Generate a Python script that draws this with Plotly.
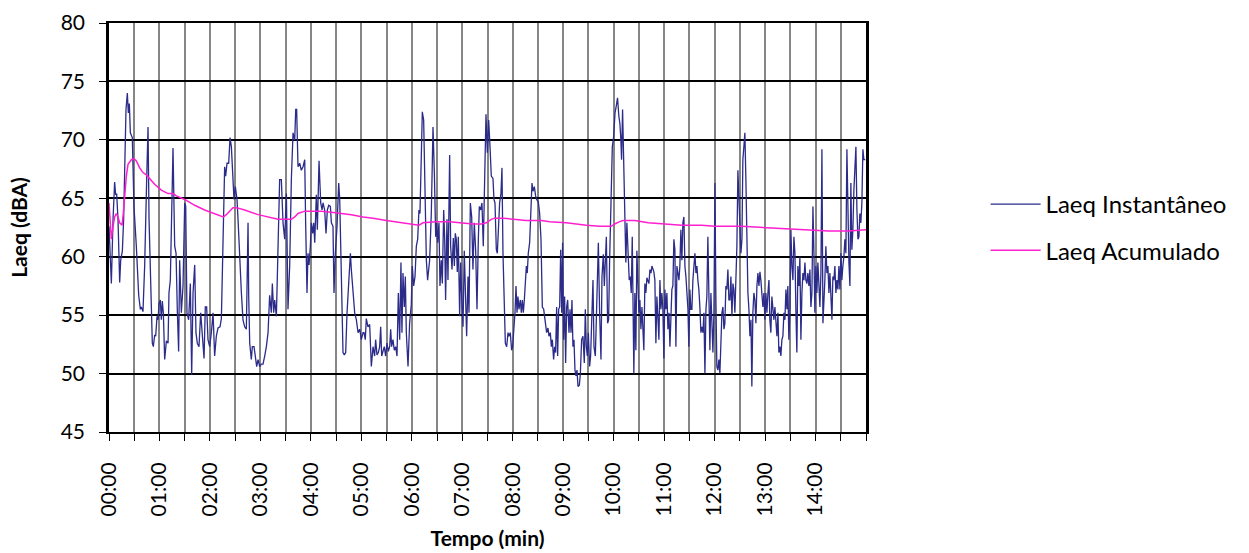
import plotly.graph_objects as go

# Laeq Instantaneo: (time in seconds, dBA)
inst_points = [
    (0, 62.6), (2.8, 57.7), (4.8, 63.2), (6.7, 66.4), (7.9, 65.3), (9.1, 65.4), (10.7, 63.2), (12.7, 57.8),
    (13.9, 59.7), (15.9, 60.5), (17.4, 63.2), (19.0, 70.3), (20.2, 72.6), (21.8, 74.0), (23.0, 72.3), (24.2, 73.1),
    (25.4, 70.6), (27.7, 70.2), (29.7, 64.3), (32.5, 60.9), (35.3, 56.7), (37.3, 55.5), (38.4, 55.7), (40.4, 55.3),
    (42.4, 59.2), (44.8, 66.6), (46.4, 71.1), (47.6, 63.2), (49.5, 57.5), (51.5, 52.6), (52.7, 52.3), (54.3, 53.3),
    (55.5, 53.2), (57.1, 54.9), (58.3, 54.6), (59.5, 56.0), (61.0, 56.3), (62.2, 54.6), (63.4, 56.2), (64.6, 55.2),
    (66.2, 51.2), (68.2, 52.8), (70.2, 52.6), (71.3, 56.9), (72.9, 58.0), (74.1, 63.2), (76.1, 69.3), (78.1, 60.9),
    (79.7, 60.3), (81.3, 55.2), (82.8, 51.9), (84.0, 59.7), (86.0, 55.2), (88.0, 57.5), (90.0, 64.6), (91.2, 64.3),
    (92.7, 55.2), (94.7, 54.6), (96.7, 57.7), (98.3, 49.9), (99.9, 56.9), (101.9, 59.3), (103.4, 53.5), (105.0, 52.6),
    (107.0, 52.3), (109.0, 55.2), (111.0, 53.2), (113.0, 51.3), (114.5, 55.7), (116.1, 55.7), (117.7, 52.9), (119.7, 52.3),
    (121.7, 53.5), (123.7, 55.2), (125.6, 51.5), (127.6, 53.2), (129.6, 53.9), (132.0, 54.0), (133.6, 54.7), (135.9, 62.6),
    (137.5, 67.7), (138.7, 66.9), (140.3, 68.0), (142.3, 68.0), (143.9, 70.2), (145.5, 69.4), (147.0, 67.7), (148.6, 64.9),
    (150.2, 66.0), (152.2, 64.9), (153.4, 63.2), (155.4, 59.2), (157.4, 56.9), (159.3, 54.6), (161.3, 54.0), (163.3, 53.8),
    (165.3, 62.9), (166.1, 56.6), (167.3, 52.6), (169.2, 51.2), (170.4, 52.3), (172.4, 52.3), (174.0, 51.2), (175.6, 50.6),
    (177.2, 51.2), (179.2, 50.6), (181.1, 50.8), (183.1, 50.8), (185.1, 51.5), (187.1, 52.3), (189.1, 53.5), (191.0, 56.7),
    (193.0, 55.2), (194.2, 57.7), (195.8, 55.2), (197.0, 56.3), (199.0, 54.9), (201.0, 61.2), (202.9, 66.6), (204.9, 66.6),
    (206.9, 62.9), (208.9, 61.5), (210.9, 65.4), (212.8, 55.5), (214.8, 59.2), (216.8, 66.6), (218.8, 70.6), (220.8, 70.0),
    (222.0, 72.6), (223.1, 72.6), (224.7, 67.7), (226.7, 68.0), (228.7, 67.4), (230.7, 67.7), (232.7, 68.3), (233.8, 62.9),
    (235.4, 56.9), (236.6, 60.3), (237.8, 59.3), (239.4, 60.9), (240.6, 62.9), (242.2, 62.0), (243.4, 62.9), (244.6, 61.2),
    (246.5, 65.3), (247.7, 62.3), (249.7, 68.2), (251.7, 64.6), (253.3, 64.0), (254.5, 64.6), (256.4, 64.0), (258.0, 62.0),
    (259.6, 64.0), (261.2, 64.4), (263.2, 64.3), (264.4, 62.9), (266.3, 62.6), (267.5, 56.9), (269.1, 60.3), (271.1, 62.6),
    (273.1, 66.3), (274.3, 64.9), (276.3, 57.5), (278.2, 51.8), (279.8, 51.6), (281.4, 51.8), (283.0, 55.2), (285.4, 58.0),
    (287.0, 60.3), (288.1, 58.9), (290.1, 56.9), (292.1, 55.2), (294.1, 54.6), (296.1, 53.5), (298.1, 53.8), (300.0, 52.9),
    (302.0, 53.5),
    (303.2, 53.5), (304.7, 52.9), (305.9, 54.7), (307.9, 54.0), (309.9, 54.2), (311.9, 50.6), (313.9, 52.3), (315.8, 51.5),
    (317.0, 52.9), (318.6, 51.6), (320.2, 51.8), (321.8, 52.3), (323.0, 54.0), (324.2, 51.5), (325.7, 51.8), (327.3, 52.3),
    (328.9, 51.5), (330.5, 52.6), (332.1, 51.9), (333.7, 52.3), (334.9, 53.8), (336.0, 52.3), (337.6, 52.9), (339.2, 52.0),
    (340.8, 52.3), (342.4, 51.5), (344.0, 56.9), (345.6, 52.9), (347.1, 59.5), (348.3, 53.5), (349.5, 58.6), (351.1, 55.7),
    (352.3, 58.3), (353.5, 53.5), (355.5, 50.6), (357.4, 54.3), (359.4, 55.9), (360.6, 59.2), (362.2, 57.5), (363.8, 58.3),
    (365.4, 60.9), (367.0, 61.5), (368.5, 64.0), (369.7, 63.7), (371.3, 68.6), (372.5, 72.4), (374.1, 71.7), (375.7, 63.7),
    (377.3, 59.7), (378.8, 58.0), (380.0, 58.9), (381.2, 59.7), (383.2, 63.7), (385.2, 71.1), (386.8, 67.2), (388.4, 61.7),
    (389.5, 62.9), (390.7, 61.2), (392.3, 62.9), (393.5, 57.5), (395.1, 59.7), (396.3, 57.7), (397.9, 64.0), (399.1, 61.5),
    (400.2, 56.3), (401.8, 63.2), (403.0, 58.0), (405.0, 68.7), (406.2, 60.9), (407.8, 58.9), (409.4, 61.6), (410.6, 59.2),
    (411.7, 62.0), (412.9, 61.5), (414.1, 58.7), (415.3, 61.7), (416.9, 54.9), (418.1, 59.5), (419.7, 55.7), (420.9, 54.0),
    (422.4, 60.5), (423.6, 57.7), (425.2, 53.2), (426.8, 58.3), (428.0, 55.2), (429.6, 64.6), (431.2, 63.4), (432.7, 58.9),
    (434.3, 62.9), (435.9, 60.6), (437.5, 55.5), (439.1, 61.5), (440.3, 64.3), (441.9, 64.0), (443.4, 64.6), (445.0, 60.9),
    (447.0, 69.4), (448.2, 72.2), (449.8, 68.9), (451.4, 71.7), (453.0, 69.4), (454.5, 66.9), (456.5, 66.7), (457.7, 64.9),
    (458.9, 64.6), (460.5, 60.6), (461.7, 60.3), (462.9, 62.6), (464.4, 64.6), (466.0, 65.4), (467.2, 67.6), (468.4, 60.3),
    (470.0, 54.0), (471.2, 52.6), (472.8, 52.3), (474.4, 53.5), (475.5, 53.2), (477.1, 53.5), (478.7, 52.0), (479.9, 52.3),
    (481.5, 54.0), (482.7, 55.2), (483.9, 57.5), (485.1, 55.2), (486.2, 56.6), (487.4, 55.5), (489.0, 56.3), (490.2, 55.2),
    (491.4, 56.3), (492.6, 55.2), (493.8, 56.3), (495.0, 57.5), (496.2, 59.2), (497.3, 58.6), (498.5, 60.3), (500.1, 61.2),
    (501.7, 64.6), (502.9, 66.3), (504.1, 65.6), (505.7, 66.0), (507.2, 65.2), (508.4, 64.9), (510.4, 64.7), (512.0, 63.7),
    (513.6, 61.5), (515.2, 55.7), (516.8, 55.5), (518.0, 54.6), (519.1, 54.3), (520.3, 53.5), (521.9, 53.9), (523.1, 53.2),
    (524.7, 53.5), (525.9, 52.3), (527.1, 52.9), (528.6, 51.2), (529.8, 52.3), (531.0, 51.8), (532.2, 55.7), (533.4, 51.5),
    (534.6, 55.5), (535.8, 55.7), (537.0, 60.6), (538.2, 55.2), (539.3, 61.2), (540.5, 52.9), (541.7, 56.6), (542.9, 50.9),
    (544.1, 55.7), (545.3, 56.3), (546.9, 53.5), (548.1, 55.5), (549.3, 53.5), (550.4, 56.3), (551.6, 52.3), (552.8, 52.9),
    (554.0, 50.3), (555.2, 49.8), (556.4, 50.3), (557.6, 48.9), (559.2, 49.0), (560.4, 50.0), (561.9, 52.9), (563.5, 53.2),
    (565.1, 50.9), (566.3, 55.5), (567.5, 52.3), (568.7, 51.5), (569.9, 53.5), (571.4, 50.6), (572.6, 51.5), (573.8, 54.9),
    (575.4, 58.0), (576.6, 52.3), (578.2, 51.5), (579.4, 54.6), (580.6, 57.7), (581.8, 61.2), (583.3, 55.2), (584.9, 51.2),
    (586.1, 58.3), (587.7, 60.2), (588.9, 57.5), (590.1, 59.7), (591.3, 61.7), (592.8, 54.3), (594.0, 54.6), (595.2, 59.7),
    (596.8, 65.7), (598.4, 69.4), (600.0, 70.3), (601.6, 72.3), (603.1, 72.9),
    (604.6, 73.6), (606.2, 72.0), (607.4, 71.4), (608.6, 70.0), (609.4, 68.3), (610.6, 72.6), (611.8, 68.6), (613.4, 63.7),
    (614.5, 59.5), (615.7, 62.9), (617.3, 59.5), (618.5, 58.0), (619.7, 58.3), (620.9, 56.9), (622.1, 61.7), (623.3, 53.8),
    (624.0, 50.0), (625.2, 56.9), (626.4, 52.0), (627.6, 60.5), (628.8, 57.5), (630.0, 55.2), (631.2, 56.3), (632.4, 53.8),
    (633.6, 55.7), (634.7, 54.0), (635.9, 52.0), (637.1, 57.7), (638.3, 56.9), (639.5, 58.2), (640.7, 58.0), (641.9, 57.7),
    (643.1, 58.9), (644.3, 58.6), (645.5, 59.2), (646.6, 58.9), (647.8, 58.7), (649.0, 58.0), (650.2, 52.6), (651.4, 56.6),
    (652.6, 54.6), (653.8, 52.9), (655.0, 58.0), (656.2, 55.5), (657.3, 56.9), (658.5, 55.5), (659.7, 51.3), (660.9, 57.2),
    (662.1, 55.5), (663.3, 56.9), (664.5, 53.8), (665.7, 55.2), (666.9, 52.3), (668.0, 55.7), (669.2, 57.2), (670.4, 57.5),
    (671.6, 61.5), (672.8, 60.6), (674.0, 52.3), (675.2, 59.2), (676.4, 58.6), (677.6, 58.0), (678.7, 59.2), (679.9, 62.3),
    (681.1, 59.7), (682.3, 62.9), (683.5, 63.4), (684.7, 59.2), (685.9, 58.3), (687.1, 56.9), (688.3, 55.5), (689.4, 52.3),
    (690.6, 57.2), (691.8, 55.5), (693.0, 55.5), (694.2, 58.0), (695.4, 59.2), (696.6, 60.3), (697.8, 58.6), (699.0, 59.2),
    (700.1, 58.0), (701.3, 57.2), (702.5, 55.7), (703.7, 53.5), (704.9, 54.0), (706.1, 53.5), (707.3, 55.2), (708.5, 50.0),
    (709.7, 55.5), (710.8, 56.6), (712.0, 61.7), (713.2, 54.0), (714.4, 52.0), (715.6, 56.9), (716.8, 54.6), (718.0, 51.8),
    (719.2, 55.2), (720.4, 66.3), (721.5, 56.6), (722.7, 50.6), (723.9, 50.3), (725.1, 51.2), (726.3, 50.0), (727.5, 52.0),
    (728.7, 55.2), (729.9, 55.7), (731.1, 53.8), (732.2, 54.3), (733.4, 57.5), (734.6, 57.2), (735.8, 58.9), (737.0, 56.3),
    (738.2, 56.3), (739.4, 58.3), (740.6, 54.9), (741.8, 57.7), (742.9, 57.2), (744.1, 55.2), (745.3, 58.0), (746.5, 60.9),
    (747.7, 67.4), (748.9, 65.2), (750.1, 61.5), (751.3, 60.3), (752.5, 61.5), (753.6, 68.3), (754.8, 69.4), (756.0, 70.6),
    (757.2, 66.6), (758.4, 59.2), (759.6, 56.9), (760.8, 55.5), (762.0, 53.2), (763.2, 54.6), (764.3, 48.9), (765.5, 55.2),
    (766.7, 56.9), (767.9, 56.3), (769.1, 54.3), (770.3, 57.5), (771.5, 58.6), (772.7, 57.5), (773.9, 58.7), (775.0, 58.0),
    (776.2, 56.9), (777.4, 55.7), (778.6, 56.9), (779.8, 54.6), (781.0, 56.9), (782.2, 55.2), (783.4, 56.9), (784.6, 58.0),
    (785.7, 54.6), (786.9, 53.5), (788.1, 56.6), (789.3, 55.5), (790.5, 54.6), (791.7, 55.7), (792.9, 54.3), (794.1, 53.2),
    (795.3, 55.2), (796.4, 51.8), (797.6, 52.3), (798.8, 51.5), (800.0, 52.9), (801.2, 53.2), (802.4, 55.2), (803.6, 54.6),
    (804.8, 57.2), (806.0, 55.5), (807.1, 57.5), (808.3, 52.9), (809.5, 55.2), (810.7, 62.3), (811.9, 59.2), (813.1, 58.0),
    (814.3, 61.7), (815.5, 60.3), (816.7, 55.2), (817.8, 51.8), (819.0, 59.2), (820.2, 57.5), (821.4, 60.0), (822.6, 52.9),
    (823.8, 56.9), (825.0, 58.6), (826.2, 58.0), (827.4, 59.5), (828.5, 58.0), (829.7, 57.7), (830.9, 58.6), (832.1, 57.5),
    (833.3, 58.9), (834.5, 55.7), (835.7, 56.9), (836.9, 64.3), (838.1, 60.3), (839.2, 55.2), (840.4, 59.2), (841.6, 56.9),
    (842.8, 59.5), (844.0, 58.0), (845.2, 55.7), (846.4, 58.6), (847.6, 69.2), (848.8, 54.3), (849.9, 55.7), (851.1, 58.0),
    (852.3, 60.9), (853.5, 58.6), (854.7, 59.2), (855.9, 56.9), (857.1, 58.6), (858.3, 56.6), (859.5, 54.6), (860.6, 58.3),
    (861.8, 58.0), (863.0, 59.2), (864.2, 56.9), (865.4, 58.0), (866.6, 57.2), (867.8, 59.2), (869.0, 57.2), (870.2, 60.3),
    (871.3, 58.0), (872.5, 59.2), (873.7, 60.0), (874.9, 61.5), (876.1, 60.3), (877.3, 69.2), (878.5, 61.7), (879.7, 59.5),
    (880.9, 57.5), (882.0, 66.3), (883.2, 60.6), (884.4, 62.3), (885.6, 65.7), (886.8, 67.7), (888.0, 69.4), (889.2, 64.0),
    (890.4, 61.5), (891.6, 61.7), (892.7, 63.7), (893.9, 62.9), (895.1, 64.6), (896.3, 69.2), (897.5, 68.3), (899.1, 68.3),
]

# Laeq Acumulado: (time in seconds, dBA)
acum_points = [
    (0, 64.6), (1.6, 62.9), (2.8, 61.5), (4.8, 62.6), (6.7, 63.4), (8.7, 63.7), (10.7, 63.4), (12.7, 62.9),
    (15.5, 62.7), (17.0, 63.7), (18.6, 65.4), (20.6, 66.9), (22.6, 67.9), (26.6, 68.3), (29.7, 68.4), (32.5, 68.2),
    (36.5, 67.6), (40.4, 67.2), (44.4, 67.0), (48.3, 66.7), (54.3, 66.2), (62.2, 65.7), (70.2, 65.4), (76.1, 65.4),
    (80.1, 65.2), (90.0, 64.9), (101.9, 64.4), (113.7, 64.0), (125.6, 63.7), (135.9, 63.4), (139.5, 63.6), (143.5, 63.9),
    (147.4, 64.2), (151.4, 64.2), (161.3, 64.0), (177.2, 63.6), (189.1, 63.4), (201.0, 63.2), (212.8, 63.2), (216.8, 63.2),
    (220.8, 63.4), (224.7, 63.7), (232.7, 63.9), (240.6, 63.9), (252.4, 63.9), (264.4, 63.8), (276.3, 63.7), (288.1, 63.6),
    (302.0, 63.4), (313.9, 63.3), (329.7, 63.1), (349.5, 62.9), (361.4, 62.8), (368.5, 62.7), (373.3, 62.9), (389.1, 63.0),
    (405.0, 63.0), (416.9, 62.9), (432.7, 62.8), (442.7, 62.8), (448.6, 62.9), (454.5, 63.2), (458.5, 63.3), (468.4, 63.3),
    (480.3, 63.2), (496.2, 63.1), (508.0, 63.1), (514.0, 63.1), (523.9, 63.0), (543.7, 62.9), (567.5, 62.7), (583.3, 62.6),
    (597.2, 62.6), (601.2, 62.8), (607.1, 63.0), (611.4, 63.1), (625.2, 63.1), (641.1, 62.9), (660.9, 62.8), (680.7, 62.7),
    (704.5, 62.7), (720.4, 62.6), (752.1, 62.6), (775.8, 62.5), (807.5, 62.4), (831.3, 62.3), (855.1, 62.2), (878.9, 62.2),
    (900.0, 62.3),
]

x_tick_values = [0, 30, 60, 90, 120, 150, 180, 210, 240, 270, 300, 330, 360, 390, 420, 450,
                 480, 510, 540, 570, 600, 630, 660, 690, 720, 750, 780, 810, 840, 870, 900]
x_tick_labels = ["00:00", "", "01:00", "", "02:00", "", "03:00", "", "04:00", "", "05:00", "",
                 "06:00", "", "07:00", "", "08:00", "", "09:00", "", "10:00", "", "11:00", "",
                 "12:00", "", "13:00", "", "14:00", "", ""]
y_tick_values = [45, 50, 55, 60, 65, 70, 75, 80]

inst_t = [p[0] for p in inst_points]
inst_db = [p[1] for p in inst_points]
acum_t = [p[0] for p in acum_points]
acum_db = [p[1] for p in acum_points]

FONT = "Lato, 'Open Sans', sans-serif"

fig = go.Figure()
fig.add_trace(go.Scatter(
    x=inst_t, y=inst_db, mode="lines", name="Laeq Instantâneo",
    line=dict(color="#2B2B8A", width=1.3), legendgroup="a"))
fig.add_trace(go.Scatter(
    x=acum_t, y=acum_db, mode="lines", name="Laeq Acumulado",
    line=dict(color="#FF1FCF", width=1.5), legendgroup="b"))

fig.update_layout(
    width=1249, height=553,
    margin=dict(l=109, r=383, t=23, b=121, autoexpand=False),
    paper_bgcolor="white", plot_bgcolor="white",
    font=dict(family=FONT, size=21, color="black"),
    showlegend=True,
    legend=dict(x=1.158, y=0.5, xanchor="left", yanchor="middle",
                font=dict(family=FONT, size=24, color="black"),
                itemwidth=50, tracegroupgap=12, bgcolor="rgba(0,0,0,0)"),
)
fig.update_xaxes(
    range=[0, 900], tickmode="array", tickvals=x_tick_values, ticktext=x_tick_labels,
    tickangle=-90, ticks="outside", ticklen=7, tickwidth=1, tickcolor="black",
    tickfont=dict(family=FONT, size=21), automargin=False,
    showgrid=True, gridcolor="#868686", gridwidth=2,
    showline=True, linecolor="black", linewidth=2, mirror=True,
    zeroline=False, ticklabelstandoff=13,
    title=dict(text="<b>Tempo (min)</b>", font=dict(family=FONT, size=21), standoff=16),
)
fig.update_yaxes(
    range=[45, 80], tickmode="array", tickvals=y_tick_values,
    ticks="outside", ticklen=7, tickwidth=1, tickcolor="black",
    tickfont=dict(family=FONT, size=21), automargin=False,
    showgrid=True, gridcolor="black", gridwidth=1.5,
    showline=True, linecolor="black", linewidth=2.5, mirror=True,
    zeroline=False, ticklabelstandoff=10,
    title=dict(text="<b>Laeq (dBA)</b>", font=dict(family=FONT, size=21), standoff=28),
)

fig.write_html("out.html")
